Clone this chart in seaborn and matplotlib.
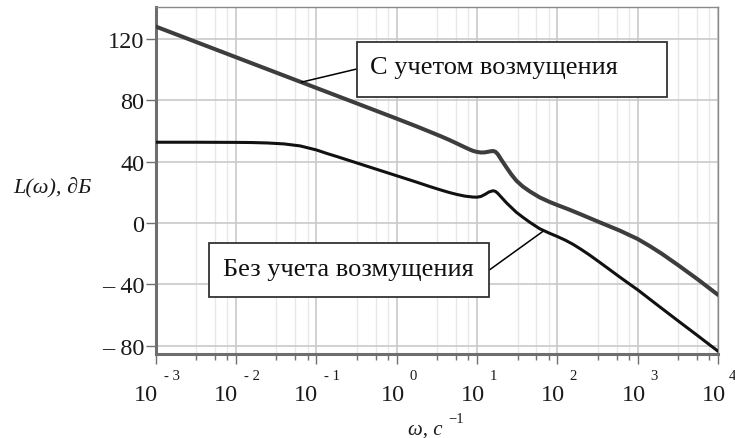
import numpy as np
import pandas as pd
import seaborn as sns
import matplotlib.pyplot as plt
from matplotlib.patches import Rectangle

# Log-magnitude frequency response, L(ω) in dB versus log10(ω)
log_w_with = [-3.0, -2.5, -2.0, -1.5, -1.0, -0.5, 0.0, 0.25, 0.41, 0.55, 0.66, 0.75,
              0.83, 0.9, 0.95, 1.0, 1.05, 1.1, 1.16, 1.2, 1.23, 1.26, 1.3, 1.37,
              1.43, 1.49, 1.57, 1.66, 1.78, 1.9, 2.0, 2.15, 2.28, 2.53, 2.78, 3.0,
              3.15, 3.3, 3.5, 3.75, 4.0]
L_with = [128.0, 118.0, 108.0, 98.0, 88.0, 78.0, 68.0, 62.9, 59.5, 56.5, 54.0, 51.8,
          49.8, 48.1, 47.0, 46.3, 45.9, 46.0, 46.6, 46.9, 46.4, 44.8, 41.5, 36.0,
          31.5, 27.6, 23.8, 20.5, 16.7, 13.8, 11.7, 8.7, 5.9, 0.4, -5.0, -10.4,
          -15.0, -20.0, -27.3, -36.8, -46.8]

log_w_without = [-3.0, -2.5, -2.0, -1.8, -1.6, -1.4, -1.2, -1.0, -0.85, -0.75, -0.5,
                 -0.25, 0.0, 0.25, 0.41, 0.55, 0.66, 0.75, 0.85, 0.95, 1.0, 1.05,
                 1.1, 1.15, 1.2, 1.23, 1.26, 1.3, 1.37, 1.43, 1.49, 1.57, 1.66, 1.78,
                 1.9, 2.0, 2.1, 2.2, 2.3, 2.4, 2.53, 2.65, 2.78, 2.9, 3.0, 3.25, 3.5,
                 3.75, 4.0]
L_without = [52.6, 52.6, 52.5, 52.4, 52.1, 51.5, 50.2, 47.6, 45.0, 43.4, 39.2,
             35.0, 30.8, 26.6, 23.8, 21.5, 19.8, 18.6, 17.5, 16.9, 16.8, 17.3,
             18.6, 20.2, 21.0, 20.6, 19.3, 17.0, 13.0, 10.0, 7.0, 3.8, 0.4, -3.7,
             -6.6, -8.8, -11.2, -14.0, -17.3, -20.8, -25.7, -30.3, -35.3, -39.8,
             -43.5, -53.6, -63.6, -73.5, -83.5]

y_ticks = [-80, -40, 0, 40, 80, 120]
y_tick_labels = ["\u2013 80", "\u2013 40", "0", "40", "80", "120"]
x_decades = [-3, -2, -1, 0, 1, 2, 3, 4]
x_minor_factors = [3.2, 5.5, 7.8]

label_with = "С учетом возмущения"
label_without = "Без учета возмущения"
y_label = "L(ω), ∂Б"
x_label = "ω, с"
x_label_sup = "\u22121"

sns.set_theme(style="white")
plt.rcParams["font.family"] = ["Liberation Serif", "DejaVu Serif"]

W, H = 735, 439
fig = plt.figure(figsize=(W / 100, H / 100), dpi=100)
ax = fig.add_axes([155.5 / W, 1 - 354.5 / H, (718 - 155.5) / W, (354.5 - 7.5) / H])
ax.set_xscale("log")

df_with = pd.DataFrame({"w": 10.0 ** np.array(log_w_with), "L": L_with})
df_without = pd.DataFrame({"w": 10.0 ** np.array(log_w_without), "L": L_without})

sns.lineplot(data=df_with, x="w", y="L", ax=ax, color="#3d3d3d", lw=2.9,
             sort=False, estimator=None, zorder=3)
sns.lineplot(data=df_without, x="w", y="L", ax=ax, color="#111111", lw=2.2,
             sort=False, estimator=None, zorder=3)
for line in ax.get_lines():
    line.set_solid_joinstyle("round")

ax.set_xlim(1e-3, 1e4)
ax.set_ylim(-85.0, 141.0)
ax.set_xlabel("")
ax.set_ylabel("")

major = [10.0 ** d for d in x_decades]
minor = [f * 10.0 ** d for d in x_decades[:-1] for f in x_minor_factors]
ax.set_xticks(major)
ax.set_xticks(minor, minor=True)
ax.set_yticks(y_ticks)
ax.set_yticklabels(y_tick_labels, fontsize=17.5, color="#1a1a1a")

ax.set_axisbelow(True)
ax.grid(which="major", color="#c9c9c9", lw=1.2)
ax.grid(which="minor", axis="x", color="#e8e8e8", lw=1.0)

ax.tick_params(axis="x", which="major", length=7, width=1, color="#707070",
               direction="out", bottom=True, labelbottom=False)
ax.tick_params(axis="x", which="minor", length=4, width=1, color="#707070",
               direction="out", bottom=True, labelbottom=False)
ax.tick_params(axis="y", which="major", length=7, width=1, color="#707070",
               direction="out", left=True, pad=1)

for side in ["left", "bottom"]:
    ax.spines[side].set_color("#6e6e6e")
    ax.spines[side].set_linewidth(2.2)
for side in ["top", "right"]:
    ax.spines[side].set_color("#8a8a8a")
    ax.spines[side].set_linewidth(1.0)

# Decade labels written as 10 with a raised exponent
for d in x_decades:
    base_dx = 2 if d < 0 else 8
    sup_dx = base_dx + (6 if d < 0 else 4.5)
    if d == x_decades[-1]:
        sup_dx = base_dx + 2.5  # keep the last exponent inside the canvas
    ax.annotate("10", xy=(10.0 ** d, 0), xycoords=("data", "axes fraction"),
                xytext=(base_dx, -46.5), textcoords="offset pixels",
                ha="right", va="baseline", fontsize=17.5, color="#1a1a1a",
                annotation_clip=False)
    sup = f"- {-d}" if d < 0 else str(d)
    ax.annotate(sup, xy=(10.0 ** d, 0), xycoords=("data", "axes fraction"),
                xytext=(sup_dx, -25.5), textcoords="offset pixels",
                ha="left", va="baseline", fontsize=10.6, color="#1a1a1a",
                annotation_clip=False)

def fx(px):
    return px / W

def fy(py):
    return 1 - py / H

# Axis titles
fig.text(fx(13), fy(192), y_label, style="italic", fontsize=16, ha="left",
         va="baseline", color="#1a1a1a")
fig.text(fx(408), fy(435), x_label, style="italic", fontsize=15, ha="left",
         va="baseline", color="#1a1a1a")
fig.text(fx(448), fy(423), x_label_sup, fontsize=10.5, ha="left",
         va="baseline", color="#1a1a1a")

# Callout leaders from the curves to the label boxes
ax.annotate("", xy=(10.0 ** -1.186, 91.7), xycoords="data",
            xytext=(356.7, H - 70), textcoords="figure pixels",
            arrowprops=dict(arrowstyle="-", color="black", lw=1.1,
                            shrinkA=0, shrinkB=0), annotation_clip=False)
ax.annotate("", xy=(10.0 ** 1.82, -5.5), xycoords="data",
            xytext=(489.3, H - 271), textcoords="figure pixels",
            arrowprops=dict(arrowstyle="-", color="black", lw=1.1,
                            shrinkA=0, shrinkB=0), annotation_clip=False)

# Label boxes
for (x0, y0, x1, y1) in [(356.7, 42.7, 666.7, 98.3), (209.3, 244.0, 489.3, 298.3)]:
    fig.add_artist(Rectangle((fx(x0), fy(y1)), (x1 - x0) / W, (y1 - y0) / H,
                             transform=fig.transFigure, facecolor="white",
                             edgecolor="#333333", lw=1.3, zorder=5))
fig.text(fx(370), fy(74), label_with, fontsize=19, ha="left", va="baseline",
         color="#111111", zorder=6)
fig.text(fx(222.7), fy(276), label_without, fontsize=19, ha="left",
         va="baseline", color="#111111", zorder=6)

fig.savefig("out.png", dpi=100, facecolor="white")
